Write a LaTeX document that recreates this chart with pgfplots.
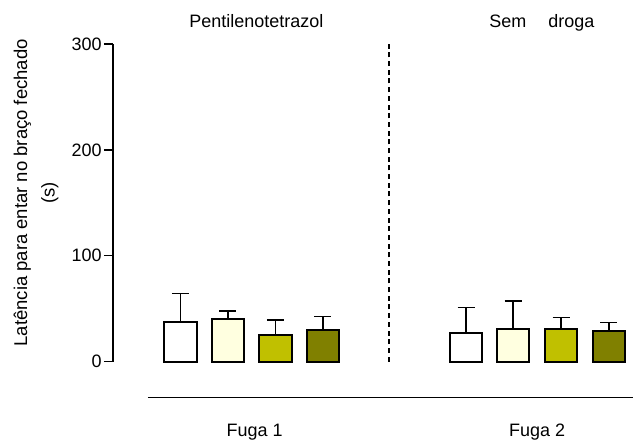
\documentclass[border=0pt]{standalone}
\usepackage{pgfplots}
\pgfplotsset{compat=1.18}
\usepackage{fontspec}
\setmainfont{Liberation Sans}
\definecolor{lyel}{HTML}{FFFFE0}
\definecolor{yel}{HTML}{C0C000}
\definecolor{oli}{HTML}{808000}
\begin{document}
\begin{tikzpicture}
\begin{axis}[
  x=1bp, y=1.06bp,
  xmin=113, xmax=634, ymin=0, ymax=300,
  axis x line=none, axis y line*=left,
  ytick={0,100,200,300},
  tick align=outside, major tick length=9bp,
  axis line style={line width=1.4bp, black},
  ytick style={line width=1.4bp, black},
  yticklabel style={font=\fontsize{18bp}{20bp}\selectfont, inner sep=2bp},
  /pgf/number format/assume math mode=true,
  clip=false,
  bar width=32.5,
  error bars/y dir=plus, error bars/y explicit,
  error bars/error mark options={rotate=90, mark size=8.5bp, line width=1.6bp, black},
  error bars/error bar style={line width=1.6bp, black},
]
\addplot[ybar, bar shift=0pt, fill=white, draw=black, line width=2bp]
  coordinates {(180.5,37.1) +- (0,27.1) (466.7,27.1) +- (0,24.1)};
\addplot[ybar, bar shift=0pt, fill=lyel, draw=black, line width=2bp]
  coordinates {(228.2,40.6) +- (0,6.9) (513.8,30.8) +- (0,26.7)};
\addplot[ybar, bar shift=0pt, fill=yel, draw=black, line width=2bp]
  coordinates {(275.7,24.8) +- (0,14.5) (561.7,30.8) +- (0,11.0)};
\addplot[ybar, bar shift=0pt, fill=oli, draw=black, line width=2bp]
  coordinates {(323.3,30.2) +- (0,12.5) (609.5,28.6) +- (0,8.5)};
% separators and annotations
\draw[line width=1.3bp, dash pattern=on 5bp off 3.7bp] (axis cs:389.3,0) -- (axis cs:389.3,300);
\draw[line width=1.4bp] (axis cs:148,-34) -- (axis cs:634,-34);
\node[anchor=base, font=\fontsize{18bp}{20bp}\selectfont] at (axis cs:256.7,315.4) {Pentilenotetrazol};
\node[anchor=base, font=\fontsize{18bp}{20bp}\selectfont] at (axis cs:542.5,315.4) {Sem\hspace{22bp}droga};
\node[anchor=base, font=\fontsize{18bp}{20bp}\selectfont] at (axis cs:255,-70.5) {Fuga 1};
\node[anchor=base, font=\fontsize{18bp}{20bp}\selectfont] at (axis cs:537.7,-70.5) {Fuga 2};
\node[rotate=90, align=center, font=\fontsize{18.5bp}{27.5bp}\selectfont] at (axis cs:36,159.4) {Latência para entar no braço fechado\\(s)};
\path (axis cs:0,341.5) -- (axis cs:634,-75.5);
\end{axis}
\end{tikzpicture}
\end{document}
